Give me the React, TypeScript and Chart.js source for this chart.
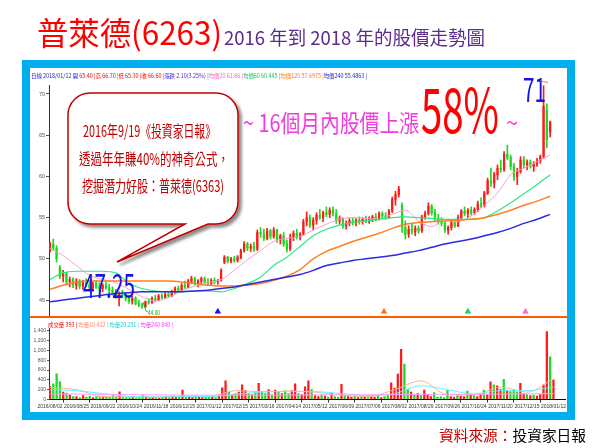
import React, { useEffect, useRef } from 'react';
import { Chart, registerables } from 'chart.js';

Chart.register(...registerables);

// ---------- data ----------
const dateLabels = [
  '2016/08/02', '2016/08/25', '2016/09/22', '2016/10/24', '2016/11/18', '2016/12/15',
  '2017/01/12', '2017/02/15', '2017/03/16', '2017/04/14', '2017/05/12', '2017/06/09',
  '2017/07/06', '2017/08/02', '2017/08/29', '2017/09/26', '2017/10/24', '2017/11/20',
  '2017/12/15', '2018/01/12',
];
const LABEL_STEP = 8; // candles between date labels
const MA_STEP = 4; // candles between moving-average samples
const VOL_MA_STEP = 8;

const openPrice = [
  51.0, 51.8, 51.3, 49.0, 47.9, 48.2, 47.2, 47.5,
  46.8, 47.3, 46.7, 47.1, 46.9, 46.5, 47.0, 46.6,
  46.4, 46.8, 46.5, 46.2, 45.9, 45.2, 45.8, 45.6,
  45.2, 44.9, 45.2, 44.6, 44.4, 44.2, 44.8, 44.7,
  45.2, 45.0, 45.5, 45.3, 45.7, 45.5, 46.0, 46.4,
  46.2, 46.8, 46.6, 47.3, 47.6, 47.0, 47.3, 47.6,
  47.2, 47.0, 47.4, 47.2, 47.4, 49.6, 50.2, 49.7,
  50.0, 49.8, 50.2, 51.0, 51.8, 51.3, 51.5, 51.2,
  53.2, 53.0, 52.5, 53.4, 52.7, 53.5, 52.3, 52.8,
  51.8, 51.2, 52.7, 53.1, 52.6, 53.0, 54.5, 55.0,
  54.1, 54.7, 55.3, 55.0, 55.6, 55.4, 55.9, 55.5,
  54.6, 54.9, 54.0, 54.3, 54.6, 54.4, 54.7, 54.5,
  54.8, 54.6, 54.9, 55.1, 54.8, 55.5, 55.2, 55.0,
  55.8, 57.2, 57.8, 56.5, 53.8, 53.0, 53.6, 53.3,
  53.7, 53.4, 55.1, 55.5, 56.4, 55.6, 54.9, 54.5,
  54.3, 53.5, 53.8, 54.4, 54.0, 55.0, 55.8, 55.5,
  55.9, 55.6, 56.0, 56.7, 56.5, 58.0, 59.5, 59.2,
  60.2, 61.0, 60.8, 62.7, 62.3, 61.2, 60.0, 60.6,
  62.0, 61.4, 61.7, 61.2, 61.5, 61.9, 62.4, 68.0, 65.4,
];
const highPrice = [
  52.0, 52.4, 51.6, 49.2, 48.6, 48.4, 47.8, 47.7,
  47.6, 47.5, 47.4, 47.6, 47.3, 47.2, 47.4, 47.1,
  47.0, 47.2, 46.9, 46.6, 46.3, 46.0, 46.2, 45.9,
  45.6, 45.5, 45.4, 45.0, 44.6, 44.9, 45.2, 45.4,
  45.6, 45.7, 45.8, 45.9, 45.9, 46.2, 46.6, 46.7,
  47.0, 47.3, 47.5, 47.9, 47.8, 47.5, 47.8, 47.8,
  47.6, 47.6, 47.7, 47.5, 48.8, 50.4, 50.3, 50.2,
  50.3, 50.4, 51.2, 52.1, 52.0, 51.8, 52.0, 53.5,
  53.8, 53.6, 53.7, 53.6, 53.8, 53.6, 53.0, 53.2,
  52.3, 53.0, 53.4, 53.6, 53.2, 54.8, 55.7, 55.3,
  55.0, 55.6, 56.0, 55.8, 56.3, 56.2, 56.3, 56.0,
  55.2, 55.0, 54.6, 54.9, 55.0, 54.9, 55.1, 55.0,
  55.2, 55.1, 55.3, 55.5, 55.7, 55.7, 55.6, 56.0,
  57.5, 58.2, 58.8, 56.8, 54.6, 54.0, 54.2, 54.0,
  54.0, 55.3, 55.8, 56.8, 56.6, 56.0, 55.4, 55.0,
  54.5, 54.0, 54.6, 54.7, 55.3, 56.0, 56.3, 56.1,
  56.3, 56.2, 57.0, 57.4, 58.2, 59.8, 61.0, 60.5,
  61.4, 62.0, 63.0, 63.8, 62.6, 61.6, 61.0, 62.4,
  62.4, 62.0, 62.0, 61.8, 62.2, 62.6, 71.0, 68.8, 66.7,
];
const lowPrice = [
  50.8, 51.0, 49.6, 47.6, 47.2, 46.8, 46.6, 46.5,
  46.3, 46.4, 46.3, 46.6, 46.2, 46.3, 46.4, 46.0,
  46.0, 46.3, 45.9, 45.6, 45.2, 44.3, 45.3, 44.9,
  44.6, 44.5, 44.4, 44.2, 44.0, 44.1, 44.5, 44.6,
  44.8, 44.9, 45.1, 45.2, 45.3, 45.4, 45.8, 46.0,
  46.1, 46.4, 46.5, 47.0, 46.8, 46.6, 47.0, 47.0,
  46.8, 46.9, 47.0, 46.9, 47.3, 49.4, 49.5, 49.5,
  49.6, 49.6, 50.0, 50.8, 51.0, 50.9, 50.9, 51.0,
  52.6, 52.2, 52.3, 52.4, 52.5, 52.0, 51.8, 51.5,
  50.8, 51.0, 52.2, 52.4, 52.3, 52.9, 54.0, 53.8,
  53.5, 54.2, 54.8, 54.5, 55.1, 55.0, 55.2, 54.3,
  54.2, 53.7, 53.6, 54.0, 54.1, 54.0, 54.2, 54.2,
  54.4, 54.3, 54.5, 54.6, 54.7, 55.0, 54.8, 54.9,
  55.6, 56.5, 57.5, 53.2, 52.4, 52.6, 53.0, 52.8,
  53.1, 53.2, 54.8, 55.3, 55.3, 54.6, 54.2, 54.0,
  53.2, 53.0, 53.5, 53.8, 53.9, 54.8, 55.2, 55.0,
  55.3, 55.4, 55.7, 56.2, 56.3, 57.8, 58.8, 58.6,
  59.6, 60.5, 60.6, 62.0, 60.8, 59.5, 59.0, 60.4,
  61.0, 60.8, 61.0, 60.6, 61.2, 61.6, 62.2, 63.5, 64.8,
];
const closePrice = [
  51.8, 51.3, 50.0, 47.9, 48.2, 47.2, 47.5, 46.8,
  47.3, 46.7, 47.1, 46.9, 46.5, 47.0, 46.6, 46.4,
  46.8, 46.5, 46.2, 45.9, 45.5, 45.8, 45.6, 45.2,
  44.9, 45.2, 44.6, 44.4, 44.2, 44.8, 44.7, 45.2,
  45.0, 45.5, 45.3, 45.7, 45.5, 46.0, 46.4, 46.2,
  46.8, 46.6, 47.3, 47.6, 47.0, 47.3, 47.6, 47.2,
  47.0, 47.4, 47.2, 47.4, 48.6, 50.2, 49.7, 50.0,
  49.8, 50.2, 51.0, 51.8, 51.3, 51.5, 51.2, 53.2,
  53.0, 52.5, 53.4, 52.7, 53.5, 52.3, 52.8, 51.8,
  51.2, 52.7, 53.1, 52.6, 53.0, 54.5, 55.0, 54.1,
  54.7, 55.3, 55.0, 55.6, 55.4, 55.9, 55.5, 54.6,
  54.9, 54.0, 54.3, 54.6, 54.4, 54.7, 54.5, 54.8,
  54.6, 54.9, 55.1, 54.8, 55.5, 55.2, 55.0, 55.8,
  57.2, 57.8, 58.5, 53.8, 53.0, 53.6, 53.3, 53.7,
  53.4, 55.1, 55.5, 56.4, 55.6, 54.9, 54.5, 54.3,
  53.5, 53.8, 54.4, 54.0, 55.0, 55.8, 55.5, 55.9,
  55.6, 56.0, 56.7, 56.5, 58.0, 59.5, 59.2, 60.2,
  61.0, 60.8, 62.7, 62.3, 61.2, 60.0, 60.6, 62.0,
  61.4, 61.7, 61.2, 61.5, 61.9, 62.4, 68.5, 64.5, 66.6,
];
const volume = [
  270, 320, 520, 360, 150, 130, 90, 60,
  60, 40, 80, 50, 70, 40, 60, 50,
  40, 60, 50, 80, 60, 155, 50, 40,
  40, 60, 30, 50, 80, 60, 40, 50,
  40, 30, 50, 60, 40, 70, 50, 60,
  190, 60, 50, 40, 70, 60, 40, 50,
  50, 60, 40, 70, 240, 380, 150, 100,
  120, 150, 300, 180, 120, 100, 150, 330,
  150, 120, 200, 100, 190, 150, 120, 180,
  120, 180, 320, 120, 100, 260, 380, 200,
  80, 60, 100, 70, 50, 130, 60, 50,
  310, 80, 60, 50, 70, 40, 60, 50,
  40, 60, 50, 70, 40, 60, 80, 340,
  230, 516, 1020, 720, 200, 150, 100, 120,
  80, 190, 100, 60, 140, 50, 60, 40,
  180, 60, 50, 80, 70, 60, 170, 100,
  80, 60, 120, 190, 100, 360, 300, 280,
  200, 410, 180, 160, 200, 150, 330, 120,
  100, 80, 90, 70, 100, 300, 1380, 870, 393,
];
const ma20 = [
  51.3, 50.4, 49.2, 48.0, 47.5, 47.1, 46.3, 45.4, 44.9, 45.3,
  46.1, 46.7, 47.1, 47.5, 48.6, 49.9, 51.0, 52.1, 52.5, 52.7,
  53.5, 54.2, 54.8, 55.0, 54.9, 54.8, 55.4, 55.9, 54.6, 53.9,
  54.8, 54.5, 55.2, 56.5, 58.0, 60.2, 61.0, 61.8, 62.6,
];
const ma60 = [
  47.5, 48.3, 48.5, 48.5, 48.5, 48.3, 47.0, 46.4, 46.1, 46.0,
  46.0, 46.1, 46.1, 46.0, 46.4, 47.0, 47.8, 49.2, 50.2, 51.5,
  52.8, 53.6, 54.1, 54.4, 54.6, 54.8, 55.0, 55.1, 55.0, 54.9,
  54.8, 54.8, 54.8, 55.0, 55.8, 56.8, 57.9, 59.0, 60.2,
];
const ma120 = [
  46.3, 46.8, 47.2, 47.3, 47.3, 47.3, 47.3, 47.3, 47.3, 47.3,
  47.2, 47.0, 46.8, 46.7, 46.7, 46.8, 47.0, 47.4, 47.9, 48.7,
  50.0, 50.9, 51.5, 52.1, 52.6, 53.1, 53.7, 54.2, 54.4, 54.5,
  54.6, 54.7, 54.8, 55.0, 55.4, 55.9, 56.5, 57.0, 57.6,
];
const ma240 = [
  44.8, 45.0, 45.2, 45.4, 45.6, 45.8, 45.9, 46.0, 46.0, 46.0,
  46.0, 46.1, 46.2, 46.4, 46.6, 46.9, 47.2, 47.5, 47.8, 48.1,
  48.6, 49.2, 49.5, 49.8, 50.0, 50.2, 50.4, 50.7, 51.0, 51.4,
  51.8, 52.1, 52.4, 52.8, 53.2, 53.7, 54.3, 54.8, 55.4,
];
const volMa10 = [250, 200, 60, 50, 50, 70, 60, 180, 160, 170, 150, 90, 60, 200, 380, 100, 100, 250, 150, 422];
const volMa20 = [200, 180, 120, 60, 50, 60, 60, 110, 150, 160, 160, 120, 80, 120, 280, 200, 110, 180, 180, 251];
const volMa240 = [110, 110, 105, 100, 95, 90, 88, 88, 90, 92, 95, 95, 95, 100, 105, 105, 105, 110, 115, 120];
const priceTicks = [45, 50, 55, 60, 65, 70];
const volumeTicks = [0, 200, 400, 600, 800, 1000, 1200, 1400];
const signalIndex = [51, 101.5, 127, 144.5];
const signalColors = ['#1a1aff', '#ff7a1a', '#19d46e', '#ff70c8'];
const SIGNAL_LEVEL = 43.6;

// ---------- styles ----------
const UP = '#ff1a1a';
const DOWN = '#1fd81f';
const X_MIN = -0.3;
const X_MAX = 155.6;
const CJK = '"Noto Sans CJK TC", "Noto Sans", sans-serif';

const candleColors = openPrice.map((o, i) => (closePrice[i] >= o ? UP : DOWN));
const sampled = (arr: number[], step: number) => arr.map((v, k) => ({ x: k * step, y: v }));

function makePriceChart(canvas: HTMLCanvasElement) {
  const line = (data: number[], color: string, width: number) => ({
    type: 'line' as const,
    data: sampled(data, MA_STEP),
    borderColor: color,
    borderWidth: width,
    pointRadius: 0,
    cubicInterpolationMode: 'monotone' as const,
    order: 0,
  });
  return new Chart(canvas, {
    type: 'bar',
    data: {
      datasets: [
        line(ma240, '#2a2ae0', 1.5),
        line(ma120, '#ff8020', 1.5),
        line(ma60, '#2ee683', 1.2),
        line(ma20, '#ff9ccf', 1),
        {
          type: 'bar',
          data: lowPrice.map((l, i) => ({ x: i, y: [l, highPrice[i]] })),
          backgroundColor: candleColors,
          barThickness: 1,
          grouped: false,
          order: 2,
        } as any,
        {
          type: 'bar',
          data: openPrice.map((o, i) => ({ x: i, y: [o, closePrice[i]] })),
          backgroundColor: candleColors,
          barThickness: 1.6,
          grouped: false,
          order: 1,
        } as any,
        {
          type: 'scatter',
          data: signalIndex.map((x) => ({ x, y: SIGNAL_LEVEL })),
          pointStyle: 'triangle',
          pointRadius: 3,
          pointBackgroundColor: signalColors,
          pointBorderColor: signalColors,
          order: 0,
        } as any,
      ],
    },
    options: {
      animation: false,
      responsive: false,
      plugins: { legend: { display: false }, tooltip: { enabled: false } },
      layout: { padding: { left: 0, right: 1, top: 5, bottom: 4 } },
      scales: {
        x: { type: 'linear', min: X_MIN, max: X_MAX, display: false, offset: false },
        y: {
          min: 43.19,
          max: 71.09,
          afterBuildTicks: (s: any) => { s.ticks = priceTicks.map((v) => ({ value: v })); },
          afterFit: (s: any) => { s.width = 19; },
          ticks: { font: { size: 5.5, family: 'Liberation Sans' }, color: '#555', padding: 1 },
          grid: { drawOnChartArea: false, tickLength: 3, color: '#555' },
          border: { color: '#333' },
        },
      },
    } as any,
  });
}

function makeVolumeChart(canvas: HTMLCanvasElement) {
  const line = (data: number[], color: string) => ({
    type: 'line' as const,
    data: sampled(data, VOL_MA_STEP),
    borderColor: color,
    borderWidth: 1,
    pointRadius: 0,
    cubicInterpolationMode: 'monotone' as const,
    order: 0,
  });
  return new Chart(canvas, {
    type: 'bar',
    data: {
      datasets: [
        line(volMa240, '#ff9cff'),
        line(volMa20, '#66f0ff'),
        line(volMa10, '#ffb392'),
        {
          type: 'bar',
          data: volume.map((v, i) => ({ x: i, y: v })),
          backgroundColor: candleColors,
          barThickness: 1.6,
          grouped: false,
          order: 1,
        } as any,
      ],
    },
    options: {
      animation: false,
      responsive: false,
      plugins: { legend: { display: false }, tooltip: { enabled: false } },
      layout: { padding: { left: 0, right: 1, top: 8, bottom: 0 } },
      scales: {
        x: {
          type: 'linear',
          min: X_MIN,
          max: X_MAX,
          offset: false,
          afterBuildTicks: (s: any) => { s.ticks = dateLabels.map((_, k) => ({ value: k * LABEL_STEP })); },
          afterFit: (s: any) => { s.height = 12.5; },
          ticks: {
            callback: (v: any) => dateLabels[Math.round(Number(v) / LABEL_STEP)] ?? '',
            font: { size: 5, family: 'Liberation Sans' },
            color: '#333',
            maxRotation: 0,
            minRotation: 0,
            autoSkip: false,
            padding: 1,
          },
          grid: { drawOnChartArea: false, tickLength: 3, color: '#333' },
          border: { color: '#000' },
        },
        y: {
          min: 0,
          max: 1455,
          afterBuildTicks: (s: any) => { s.ticks = volumeTicks.map((v) => ({ value: v })); },
          afterFit: (s: any) => { s.width = 19; },
          ticks: {
            callback: (v: any) => Number(v).toLocaleString('en-US'),
            font: { size: 5, family: 'Liberation Sans' },
            color: '#555',
            padding: 1,
          },
          grid: { drawOnChartArea: false, tickLength: 2, color: '#555' },
          border: { color: '#333' },
        },
      },
    } as any,
  });
}

const priceHeader: [string, string][] = [
  ['日線 ', '#1a1acc'], ['2018/01/12 開', '#1a1acc'], [' 65.40 |', '#ff0000'],
  ['高 66.70 |', '#ff0000'], ['低 65.30 |', '#ff0000'], ['收 66.60 |', '#ff0000'],
  ['漲跌 2.10(3.25%) |', '#4b2bd6'], ['均價20 61.66 |', '#ff5fc8'],
  ['均價60 60.445 |', '#11c26a'], ['均價120 57.6975 |', '#ff7a1a'], ['均價240 55.4863 |', '#1a1acc'],
];
const volumeHeader: [string, string][] = [
  ['成交量 393 |', '#ff0000'], [' 均量10 422 |', '#ff8a66'], [' 均量20 251 |', '#22cccc'], [' 均量240 840 |', '#ee44ee'],
];

export default function App() {
  const priceRef = useRef<HTMLCanvasElement>(null);
  const volRef = useRef<HTMLCanvasElement>(null);

  useEffect(() => {
    const pc = makePriceChart(priceRef.current!);
    const vc = makeVolumeChart(volRef.current!);
    return () => { pc.destroy(); vc.destroy(); };
  }, []);

  const bubble =
    'M 90 93 H 216 A 22 22 0 0 1 238 115 V 202 A 22 22 0 0 1 216 224 H 208 L 117 262 L 185 224 H 90 A 22 22 0 0 1 68 202 V 115 A 22 22 0 0 1 90 93 Z';

  return (
    <div style={{ position: 'fixed', left: 0, top: 0, width: 600, height: 448, background: '#fff', overflow: 'hidden' }}>
      <canvas ref={priceRef} width={537} height={240} style={{ position: 'absolute', left: 30, top: 80, width: 537, height: 240 }} />
      <canvas ref={volRef} width={537} height={92} style={{ position: 'absolute', left: 30, top: 320, width: 537, height: 92 }} />
      <svg width={600} height={448} style={{ position: 'absolute', left: 0, top: 0, pointerEvents: 'none' }} fontFamily={CJK}>
        <defs>
          <filter id="shadow" x="-20%" y="-20%" width="150%" height="150%">
            <feDropShadow dx="3" dy="3" stdDeviation="1.5" floodColor="#000" floodOpacity="0.45" />
          </filter>
        </defs>
        {/* frame */}
        <rect x={26} y={64} width={545} height={352} fill="none" stroke="#00aeef" strokeWidth={8} />
        <line x1={30} y1={317} x2={567} y2={317} stroke="#ff5a00" strokeWidth={2} />

        {/* title */}
        <text x={37} y={45} fontSize={32} fill="#ff0000" textLength={185} lengthAdjust="spacingAndGlyphs">普萊德(6263)</text>
        <text x={224} y={45} fontSize={19} fill="#5b2c8e" textLength={261} lengthAdjust="spacingAndGlyphs">2016 年到 2018 年的股價走勢圖</text>

        {/* chart headers */}
        <text x={31} y={77.5} fontSize={6} textLength={336} lengthAdjust="spacingAndGlyphs">
          {priceHeader.map(([t, c], k) => <tspan key={k} fill={c}>{t}</tspan>)}
        </text>
        <text x={48} y={327} fontSize={6} textLength={125} lengthAdjust="spacingAndGlyphs">
          {volumeHeader.map(([t, c], k) => <tspan key={k} fill={c}>{t}</tspan>)}
        </text>

        {/* speech bubble */}
        <path d={bubble} fill="#fff" stroke="#c00000" strokeWidth={1.5} filter="url(#shadow)" />
        <text x={83} y={137} fontSize={16} fill="#c00000" textLength={133} lengthAdjust="spacingAndGlyphs">2016年9/19《投資家日報》</text>
        <text x={79} y={164.5} fontSize={16} fill="#c00000" textLength={150} lengthAdjust="spacingAndGlyphs">透過年年賺40%的神奇公式，</text>
        <text x={82} y={192} fontSize={16} fill="#c00000" textLength={142} lengthAdjust="spacingAndGlyphs">挖掘潛力好股：普萊德(6363)</text>

        {/* annotations */}
        <text x={243} y={131.5} fontSize={24} fill="#f03cdc" textLength={176} lengthAdjust="spacingAndGlyphs">~ 16個月內股價上漲</text>
        <text x={421} y={133} fontSize={62} fill="#ff0000" textLength={78} lengthAdjust="spacingAndGlyphs">58%</text>
        <text x={506} y={131} fontSize={22} fill="#f03cdc" textLength={12} lengthAdjust="spacingAndGlyphs">~</text>
        <text x={523} y={102} fontSize={33} fill="#1414e6" textLength={23} lengthAdjust="spacingAndGlyphs">71</text>
        <text x={83} y={298} fontSize={34} fill="#1414e6" textLength={52} lengthAdjust="spacingAndGlyphs">47.25</text>
        <polyline points="143,302 146,311 148,312" fill="none" stroke="#00b000" strokeWidth={0.8} />
        <text x={148} y={314.5} fontSize={6} fill="#00b000" textLength={12} lengthAdjust="spacingAndGlyphs">44.00</text>
        <line x1={540} y1={81} x2={548} y2={82.5} stroke="#ff4040" strokeWidth={0.8} />

        {/* source */}
        <text x={439} y={440.5} fontSize={14.5} textLength={147} lengthAdjust="spacingAndGlyphs">
          <tspan fill="#c00000">資料來源：</tspan>
          <tspan fill="#000">投資家日報</tspan>
        </text>
      </svg>
    </div>
  );
}
